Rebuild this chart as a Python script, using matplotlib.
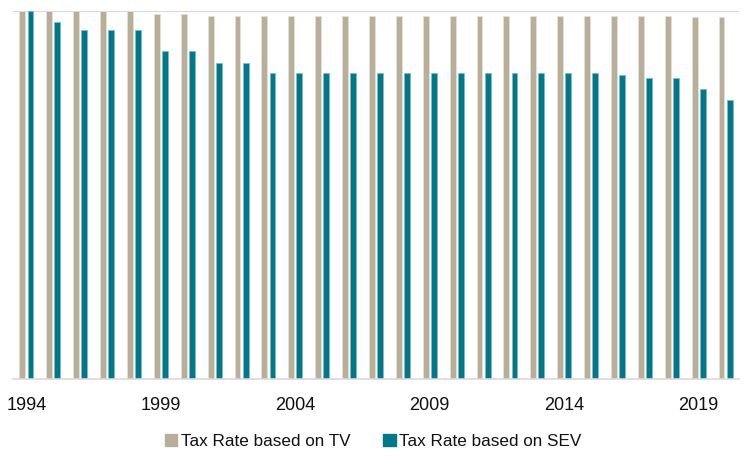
import numpy as np
import matplotlib
matplotlib.use("Agg")
import matplotlib.pyplot as plt
from matplotlib.patches import Patch

plt.rcParams['font.family'] = ['Liberation Sans Narrow', 'Liberation Sans', 'DejaVu Sans']

years = list(range(1994, 2021))
tick_years = [1994, 1999, 2004, 2009, 2014, 2019]

# relative tax rate (1994 = 100)
rate_tv = [100, 100, 100, 100, 100, 99.3, 99.3,
           98.6, 98.6, 98.6, 98.6, 98.6, 98.6, 98.6, 98.6, 98.6,
           98.6, 98.6, 98.6, 98.6, 98.6, 98.6, 98.6, 98.6, 98.6, 98.5, 98.5]
rate_sev = [100, 96.9, 94.9, 94.9, 94.9, 89.2, 89.2, 85.8, 85.8,
            83.2, 83.2, 83.2, 83.2, 83.2, 83.2, 83.2, 83.2, 83.2,
            83.2, 83.2, 83.2, 83.2, 82.7, 81.7, 81.7, 78.8, 75.7]

tv_color = "#B7AF9A"
sev_color = "#00788A"
grid_color = "#D9D9D9"

fig = plt.figure(figsize=(7.46, 4.62), dpi=100)
ax = fig.add_axes([0.0174, 0.1797, 0.9732, 0.7963])

x = np.array(years)
w = 0.22
ax.bar(x - 0.15, rate_tv, width=w, color=tv_color, edgecolor="#E4E0D6", linewidth=0.6)
ax.bar(x + 0.15, rate_sev, width=w, color=sev_color, edgecolor="#7FBBC4", linewidth=0.6)

ax.set_xlim(1993.5, 2020.5)
ax.set_ylim(0, 100)
ax.axhline(100, color=grid_color, linewidth=1.5, zorder=0)

for s in ["top", "right", "left"]:
    ax.spines[s].set_visible(False)
ax.spines["bottom"].set_color(grid_color)
ax.spines["bottom"].set_linewidth(1.2)
ax.set_yticks([])
ax.set_xticks(tick_years)
ax.set_xticklabels([str(y) for y in tick_years], fontsize=13, color="#111111")
ax.tick_params(axis="x", length=0, pad=13)

handles = [Patch(color=tv_color, label="Tax Rate based on TV"),
           Patch(color=sev_color, label="Tax Rate based on SEV")]
fig.legend(handles=handles, loc="center", bbox_to_anchor=(0.5, 0.045), ncol=2,
           frameon=False, fontsize=12.3, handlelength=0.75, handleheight=0.75,
           handletextpad=0.2, columnspacing=1.9, labelcolor="#111111")

fig.savefig("out.png", dpi=100)
